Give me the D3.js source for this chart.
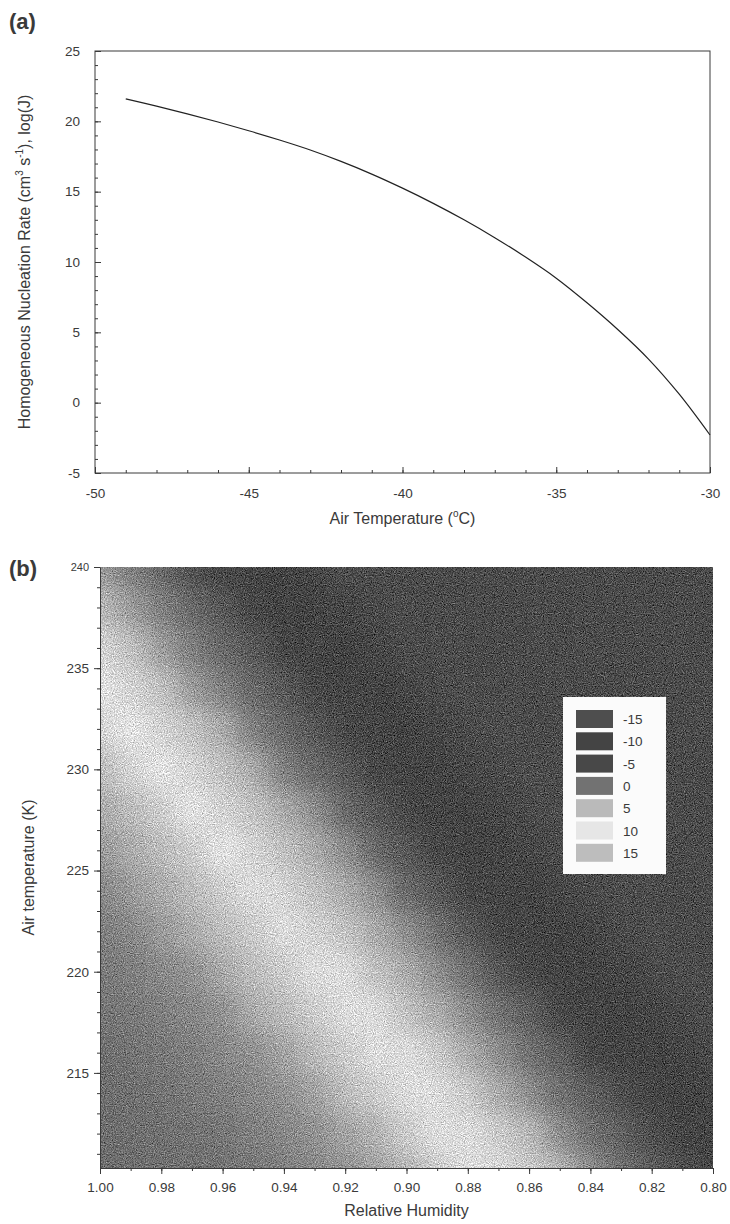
<!DOCTYPE html>
<html><head><meta charset="utf-8">
<script src="https://cdn.jsdelivr.net/npm/d3@7"></script>
<style>
body{margin:0;background:#fff;}
text{font-family:"Liberation Sans",Arial,Helvetica,sans-serif;fill:#3a3a3a;}
</style>
</head><body>
<svg id="c" width="730" height="1224"></svg>
<script>
// ---------- Panel (a) data ----------
const tempC = [-49,-48,-47,-46,-45,-44,-43,-42,-41,-40,-39,-38,-37,-36,-35,-34,-33,-32,-31,-30];
const logJ  = [21.6,21.08,20.53,19.95,19.33,18.67,17.96,17.15,16.25,15.25,14.17,13.0,11.73,10.35,8.85,7.1,5.2,3.1,0.6,-2.3];
const aXTicks = [-50,-45,-40,-35,-30];
const aYTicks = [-5,0,5,10,15,20,25];

// ---------- Panel (b) data ----------
const rh = [1.00,0.99,0.98,0.97,0.96,0.95,0.94,0.93,0.92,0.91,0.90,0.89,0.88,0.87,0.86,0.85,0.84,0.83,0.82,0.81,0.80];
const tempK = [240,238,236,234,232,230,228,226,224,222,220,218,216,214,212,210];
const gridLogJ = [
 [3,1,-1,-4,-6,-8,-10,-12,-15,-17,-19,-20,-20,-20,-20,-20,-20,-20,-20,-20,-20],
 [5,3,1,-1,-3,-6,-8,-10,-12,-14,-17,-19,-20,-20,-20,-20,-20,-20,-20,-20,-20],
 [8,6,3,1,-1,-3,-6,-8,-10,-12,-14,-17,-19,-20,-20,-20,-20,-20,-20,-20,-20],
 [10,8,6,3,1,-1,-3,-5,-8,-10,-12,-14,-16,-19,-20,-20,-20,-20,-20,-20,-20],
 [12,10,8,6,4,1,-1,-3,-5,-8,-10,-12,-14,-16,-19,-20,-20,-20,-20,-20,-20],
 [15,12,10,8,6,4,1,-1,-3,-5,-7,-10,-12,-14,-16,-18,-20,-20,-20,-20,-20],
 [17,15,13,10,8,6,4,2,-1,-3,-5,-7,-10,-12,-14,-16,-18,-20,-20,-20,-20],
 [19,17,15,13,10,8,6,4,2,-1,-3,-5,-7,-9,-12,-14,-16,-18,-20,-20,-20],
 [22,19,17,15,13,11,8,6,4,2,-1,-3,-5,-7,-9,-12,-14,-16,-18,-20,-20],
 [24,22,19,17,15,13,11,8,6,4,2,0,-3,-5,-7,-9,-11,-14,-16,-18,-20],
 [26,24,22,20,17,15,13,11,9,6,4,2,0,-3,-5,-7,-9,-11,-14,-16,-18],
 [28,26,24,22,20,17,15,13,11,9,6,4,2,0,-2,-5,-7,-9,-11,-13,-16],
 [31,29,26,24,22,20,18,15,13,11,9,7,4,2,0,-2,-5,-7,-9,-11,-13],
 [33,31,29,26,24,22,20,18,15,13,11,9,7,4,2,0,-2,-4,-7,-9,-11],
 [35,33,31,29,27,24,22,20,18,16,13,11,9,7,5,2,0,-2,-4,-7,-9],
 [38,35,33,31,29,27,24,22,20,18,16,13,11,9,7,5,2,0,-2,-4,-6]
];
const legendLevels = [-15,-10,-5,0,5,10,15];
const bXTicks = [1.00,0.98,0.96,0.94,0.92,0.90,0.88,0.86,0.84,0.82,0.80];
const bYTicks = [215,220,225,230,235,240];

// colour map (grey rendering of the original palette)
const cmapStops = [-20,-15,-10,-5,0,5,10,15,20,25,30,40];
const cmapGreys = ["#4c4c4c","#4e4e4e","#444444","#484848","#727272","#bababa","#e6e6e6","#bdbdbd","#929292","#7c7c7c","#727272","#6c6c6c"];

const svg = d3.select("#c");
const ink = "#3a3a3a";
const hy = d => String(d);              // plain hyphen-minus like the original
const fontTick = "13.5px", fontTitle = "16px";

// ================= Panel (a) =================
const ax = d3.scaleLinear().domain([-50,-30]).range([95,710]);
const ay = d3.scaleLinear().domain([-5,25]).range([473,51]);

svg.append("text").attr("x",9).attr("y",29).style("font-size","22px").style("font-weight","bold").text("(a)");

// minor ticks (inward)
svg.append("g").attr("transform",`translate(${ax.range()[0]},0)`)
  .call(d3.axisLeft(ay).tickValues(d3.range(-5,26,1)).tickSize(-3).tickFormat(""))
  .call(g=>g.select(".domain").remove()).selectAll("line").attr("stroke",ink);
svg.append("g").attr("transform",`translate(0,${ay.range()[0]})`)
  .call(d3.axisBottom(ax).tickValues(d3.range(-50,-29,1)).tickSize(-3).tickFormat(""))
  .call(g=>g.select(".domain").remove()).selectAll("line").attr("stroke",ink);
// major
const aLeft = svg.append("g").attr("transform",`translate(${ax.range()[0]},0)`)
  .call(d3.axisLeft(ay).tickValues(aYTicks).tickFormat(hy).tickSize(-6).tickPadding(15));
const aBot = svg.append("g").attr("transform",`translate(0,${ay.range()[0]})`)
  .call(d3.axisBottom(ax).tickValues(aXTicks).tickFormat(hy).tickSize(-6).tickPadding(15));
[aLeft,aBot].forEach(g=>{
  g.select(".domain").remove();
  g.selectAll("line").attr("stroke",ink);
  g.selectAll("text").style("font-size",fontTick).attr("fill",ink).style("font-family","Liberation Sans, Arial, sans-serif");
});
// frame
svg.append("rect").attr("x",ax(-50)).attr("y",ay(25)).attr("width",ax(-30)-ax(-50)).attr("height",ay(-5)-ay(25))
  .attr("fill","none").attr("stroke",ink).attr("stroke-width",1);

// curve
svg.append("path").datum(tempC.map((t,i)=>[t,logJ[i]]))
  .attr("fill","none").attr("stroke","#222").attr("stroke-width",1.2)
  .attr("d",d3.line().x(d=>ax(d[0])).y(d=>ay(d[1])).curve(d3.curveCatmullRom));

// axis titles
const aXT = svg.append("text").attr("x",(ax(-50)+ax(-30))/2).attr("y",524).attr("text-anchor","middle").style("font-size",fontTitle);
aXT.append("tspan").text("Air Temperature (");
aXT.append("tspan").attr("dy",-7).style("font-size","10px").text("o");
aXT.append("tspan").attr("dy",7).text("C)");

const aYT = svg.append("text").attr("transform",`translate(30,${(ay(25)+ay(-5))/2}) rotate(-90)`).attr("text-anchor","middle").style("font-size",fontTitle);
aYT.append("tspan").text("Homogeneous Nucleation Rate (cm");
aYT.append("tspan").attr("dy",-7).style("font-size","10px").text("3");
aYT.append("tspan").attr("dy",7).text(" s");
aYT.append("tspan").attr("dy",-7).style("font-size","10px").text("-1");
aYT.append("tspan").attr("dy",7).text("), log(J)");

// ================= Panel (b) =================
const bx = d3.scaleLinear().domain([1.00,0.80]).range([100,713]);
const by = d3.scaleLinear().domain([210.3,240]).range([1168,567]);
const col = d3.scaleLinear().domain(cmapStops).range(cmapGreys).clamp(true);

const defs = svg.append("defs");
defs.append("clipPath").attr("id","bclip").append("rect")
  .attr("x",bx(1.0)).attr("y",by(240)).attr("width",bx(0.8)-bx(1.0)).attr("height",by(210.3)-by(240));
const f = defs.append("filter").attr("id","heat").attr("x","-5%").attr("y","-5%").attr("width","110%").attr("height","110%")
  .attr("color-interpolation-filters","sRGB");
f.append("feGaussianBlur").attr("in","SourceGraphic").attr("stdDeviation",11).attr("result","b");
f.append("feTurbulence").attr("type","fractalNoise").attr("baseFrequency",0.9).attr("numOctaves",2).attr("seed",4).attr("result","n");
f.append("feColorMatrix").attr("in","n").attr("type","matrix")
  .attr("values","0.33 0.33 0.33 0 0 0.33 0.33 0.33 0 0 0.33 0.33 0.33 0 0 0 0 0 0 1").attr("result","g");
f.append("feComposite").attr("in","b").attr("in2","g").attr("operator","arithmetic")
  .attr("k1",0).attr("k2",1).attr("k3",1.1).attr("k4",-0.55);

const cells = [];
const nR = tempK.length, nC = rh.length, pad = 40;
tempK.forEach((t,r)=>rh.forEach((h,c)=>{
  const xc = bx(h), yc = by(t);
  const x0 = c===0 ? xc-pad : (bx(rh[c-1])+xc)/2;
  const x1 = c===nC-1 ? xc+pad : (bx(rh[c+1])+xc)/2;
  const y0 = r===0 ? yc-pad : (by(tempK[r-1])+yc)/2;
  const y1 = r===nR-1 ? yc+pad : (by(tempK[r+1])+yc)/2;
  cells.push({x0,x1,y0,y1,v:gridLogJ[r][c]});
}));
svg.append("g").attr("clip-path","url(#bclip)")
  .append("g").attr("filter","url(#heat)")
  .selectAll("rect").data(cells).join("rect")
  .attr("x",d=>d.x0).attr("y",d=>d.y0).attr("width",d=>d.x1-d.x0+0.5).attr("height",d=>d.y1-d.y0+0.5)
  .attr("fill",d=>col(d.v));

svg.append("text").attr("x",9).attr("y",576).style("font-size","22px").style("font-weight","bold").text("(b)");

// axes (outward ticks)
svg.append("g").attr("transform",`translate(${bx.range()[0]},0)`)
  .call(d3.axisLeft(by).tickValues(d3.range(211,241,1)).tickSize(3).tickFormat(""))
  .call(g=>g.select(".domain").remove()).selectAll("line").attr("stroke",ink);
svg.append("g").attr("transform",`translate(0,${by.range()[0]})`)
  .call(d3.axisBottom(bx).tickValues(d3.range(0,21,1).map(i=>1-i*0.01)).tickSize(3).tickFormat(""))
  .call(g=>g.select(".domain").remove()).selectAll("line").attr("stroke",ink);
const bLeft = svg.append("g").attr("transform",`translate(${bx.range()[0]},0)`)
  .call(d3.axisLeft(by).tickValues(bYTicks).tickSize(6).tickPadding(5).tickSizeOuter(0));
const bBot = svg.append("g").attr("transform",`translate(0,${by.range()[0]})`)
  .call(d3.axisBottom(bx).tickValues(bXTicks).tickFormat(d3.format(".2f")).tickSize(6).tickPadding(8).tickSizeOuter(0));
[bLeft,bBot].forEach(g=>{
  g.select(".domain").attr("stroke",ink);
  g.selectAll("line").attr("stroke",ink);
  g.selectAll("text").style("font-size",fontTick).attr("fill",ink).style("font-family","Liberation Sans, Arial, sans-serif");
});
bLeft.selectAll(".tick text").filter(d=>d===240).style("font-size","11px");

svg.append("text").attr("x",(bx(1)+bx(0.8))/2).attr("y",1216).attr("text-anchor","middle").style("font-size",fontTitle).text("Relative Humidity");
svg.append("text").attr("transform",`translate(34,${(by(240)+by(210.3))/2}) rotate(-90)`).attr("text-anchor","middle").style("font-size",fontTitle).text("Air temperature (K)");

// legend
const lg = svg.append("g").attr("transform","translate(563,697)");
lg.append("rect").attr("width",103).attr("height",177).attr("fill","#fbfbfb");
const li = lg.selectAll("g").data(legendLevels).join("g").attr("transform",(d,i)=>`translate(13,${13+i*22.3})`);
li.append("rect").attr("width",37).attr("height",18).attr("fill",d=>col(d));
li.append("text").attr("x",47).attr("y",14).style("font-size","13.5px").text(hy);
</script>
</body></html>
